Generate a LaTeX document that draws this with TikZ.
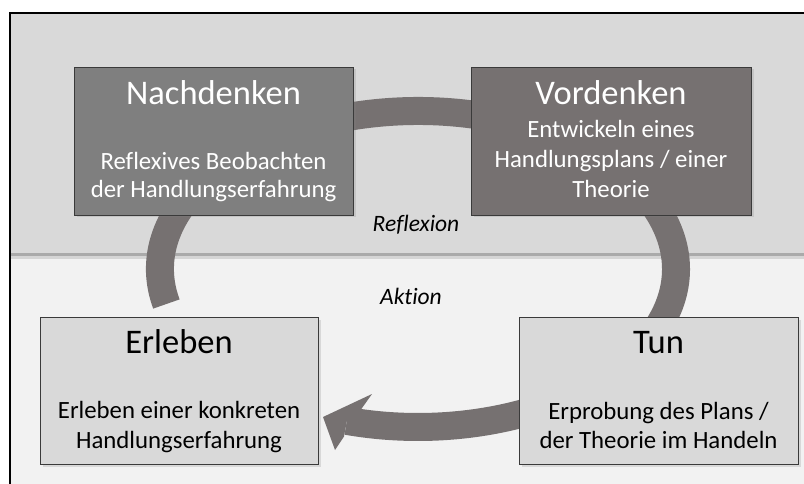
\documentclass[tikz,border=0pt]{standalone}
\usepackage{fontspec}
\setmainfont{Carlito}[Ligatures=NoCommon]
\usetikzlibrary{shadows}
\definecolor{topbg}{HTML}{D9D9D9}
\definecolor{botbg}{HTML}{F2F2F2}
\definecolor{ringc}{HTML}{767171}
\definecolor{darkA}{HTML}{7F7F7F}
\definecolor{darkB}{HTML}{767171}
\definecolor{lightbox}{HTML}{D9D9D9}
\definecolor{boxline}{HTML}{3A3A3A}
\definecolor{sepc}{HTML}{AAAAAA}
\begin{document}
\begin{tikzpicture}[x=1pt,y=1pt,
  box/.style={draw=boxline, line width=0.9pt, inner sep=0pt,
    drop shadow={opacity=0.22, shadow xshift=2.5pt, shadow yshift=-2.5pt}},
  ttl/.style={font=\fontsize{34.5}{41}\selectfont, inner sep=0pt, anchor=base},
  bodytxt/.style={font=\fontsize{24.8}{29}\selectfont, inner sep=0pt, anchor=base},
  lbl/.style={font=\fontsize{23.5}{28}\selectfont\itshape, inner sep=0pt, anchor=base},
  ring/.style={draw=ringc, line width=28pt}]
\useasboundingbox (0,0) rectangle (804,-484);
\fill[white] (0,0) rectangle (804,-484);
% backgrounds
\fill[topbg] (10,-13) rectangle (804,-254);
\fill[botbg] (10,-254) rectangle (804,-484);
\fill[sepc!40!botbg] (10,-256) rectangle (804,-259);
\draw[sepc, line width=3pt] (10,-254.5) -- (804,-254.5);
\draw[black, line width=1.3pt] (10,-484) -- (10,-13) -- (804,-13);
% ring arrow
\coordinate (rs) at (166.4,-304);
\coordinate (re) at (346.9,-420.9);
\draw[ring] (rs) arc[start angle=192.8, end angle=-106, x radius=258, y radius=158];
\fill[ringc] (323,-417) -- (372,-394) -- (361,-409.5) -- (re) -- (344,-436.5) -- (335,-450) -- cycle;
% boxes
\node[box, fill=darkA, minimum width=279pt, minimum height=148pt] (nach) at (213.5,-141) {};
\node[box, fill=darkB, minimum width=280pt, minimum height=148pt] (vor) at (611,-141) {};
\node[box, fill=lightbox, minimum width=278pt, minimum height=147pt] (erl) at (179,-390.5) {};
\node[box, fill=lightbox, minimum width=279pt, minimum height=147pt] (tun) at (658.5,-390.5) {};
% texts
\node[ttl, text=white] (nachT) at (213.5,-105) {Nachdenken};
\node[bodytxt, text=white] (nach1) at (213.5,-170) {Reflexives Beobachten};
\node[bodytxt, text=white] (nach2) at (213.5,-198) {der Handlungserfahrung};
\node[ttl, text=white] (vorT) at (611,-105) {Vordenken};
\node[bodytxt, text=white] (vor1) at (611,-138) {Entwickeln eines};
\node[bodytxt, text=white] (vor2) at (611,-168) {Handlungsplans / einer};
\node[bodytxt, text=white] (vor3) at (611,-197) {Theorie};
\node[ttl] (erlT) at (179,-353) {Erleben};
\node[bodytxt] (erl1) at (179,-418) {Erleben einer konkreten};
\node[bodytxt] (erl2) at (179,-448) {Handlungserfahrung};
\node[ttl] (tunT) at (658.5,-353) {Tun};
\node[bodytxt] (tun1) at (658.5,-419) {Erprobung des Plans /};
\node[bodytxt] (tun2) at (658.5,-448) {der Theorie im Handeln};
\node[lbl] (refl) at (416,-232) {Reflexion};
\node[lbl] (akt) at (411,-304) {Aktion};
\end{tikzpicture}
\end{document}
